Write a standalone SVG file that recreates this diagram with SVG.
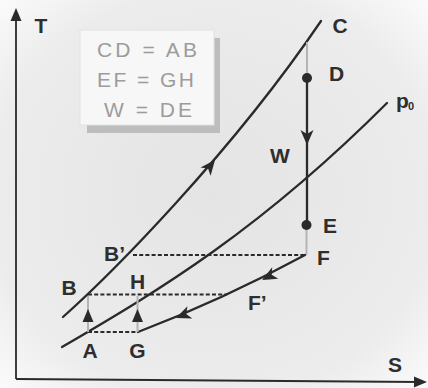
<svg xmlns="http://www.w3.org/2000/svg" width="428" height="388" viewBox="0 0 428 388">
  <defs>
    <radialGradient id="bg" cx="50%" cy="50%" r="70%">
      <stop offset="0" stop-color="#e4e4e4"/>
      <stop offset="0.75" stop-color="#ececec"/>
      <stop offset="1" stop-color="#fafafa"/>
    </radialGradient>
    <path id="ah" d="M0,0 L-15,-6.5 L-11,0 L-15,6.5 Z"/>
    <path id="ahs" d="M0,0 L-13,-5.5 L-13,5.5 Z"/>
    <style>
      .curve { fill: none; stroke: #2a2a2a; stroke-width: 2.3; stroke-linecap: round; }
      .dash { fill: none; stroke: #2a2a2a; stroke-width: 1.8; stroke-dasharray: 4 2.2; }
      .thin { fill: none; stroke: #b4b4b4; stroke-width: 2; }
      .axis { fill: none; stroke: #2a2a2a; stroke-width: 1.8; }
      .head { fill: #2a2a2a; }
      .lbl { font-family: "Liberation Sans", Arial, sans-serif; font-weight: bold; font-size: 21px; fill: #2e2e2e; }
      .eq { font-family: "Liberation Sans", Arial, sans-serif; font-size: 21px; fill: #9c9c9c; }
    </style>
  </defs>

  <rect x="0" y="0" width="428" height="388" fill="url(#bg)"/>

  <!-- formula box -->
  <g id="formula-box">
    <rect x="87" y="38" width="133" height="95" fill="#bdbdbd"/>
    <rect x="80" y="30" width="134" height="95" fill="#f7f7f7" stroke="#e2e2e2" stroke-width="1"/>
    <text class="eq" x="97" y="57" textLength="100" lengthAdjust="spacing">CD = AB</text>
    <text class="eq" x="97" y="87" textLength="97" lengthAdjust="spacing">EF = GH</text>
    <text class="eq" x="104" y="117" textLength="88" lengthAdjust="spacing">W = DE</text>
  </g>

  <!-- axes -->
  <g id="axes">
    <line class="axis" x1="16" y1="379" x2="16" y2="12"/>
    <use href="#ahs" class="head" transform="translate(16,8) rotate(-90)"/>
    <line class="axis" x1="16" y1="379" x2="420" y2="382"/>
    <use href="#ahs" class="head" transform="translate(427,382) rotate(0.4)"/>
    <text class="lbl" x="41" y="33" text-anchor="middle">T</text>
    <text class="lbl" x="395" y="372" text-anchor="middle">S</text>
  </g>

  <!-- connectors -->
  <g id="connectors">
    <!-- upper isobar through B, B', C -->
    <path class="curve" d="M63,317 C110,275 230,155 321,21"/>
    <use href="#ah" class="head" transform="translate(215,160) rotate(-51)"/>
    <!-- ambient isobar p0 through A, H -->
    <path class="curve" d="M62,347 C160,290 260,230 387,103"/>
    <!-- vertical C-D-E-F -->
    <line class="thin" x1="307" y1="42" x2="307" y2="78"/>
    <line class="curve" x1="307" y1="78" x2="307" y2="225"/>
    <use href="#ah" class="head" transform="translate(307,145) rotate(90)"/>
    <line class="thin" x1="306.5" y1="225" x2="306.5" y2="255"/>
    <!-- F -> G cooling curve -->
    <path class="curve" d="M305,255 Q222,300 138,332"/>
    <use href="#ah" class="head" transform="translate(262,280) rotate(152)"/>
    <use href="#ah" class="head" transform="translate(176,318) rotate(158)"/>
    <!-- dashed horizontals -->
    <line class="dash" x1="133" y1="255" x2="305" y2="255"/>
    <line class="dash" x1="88" y1="294.5" x2="227" y2="294.5"/>
    <line class="dash" x1="88" y1="332" x2="138" y2="332"/>
    <!-- vertical arrows A->B, G->H -->
    <line class="thin" x1="88" y1="332" x2="88" y2="296"/>
    <use href="#ahs" class="head" transform="translate(88,309) rotate(-90)"/>
    <line class="thin" x1="137.5" y1="332" x2="137.5" y2="296"/>
    <use href="#ahs" class="head" transform="translate(137.5,309) rotate(-90)"/>
  </g>

  <!-- nodes / points -->
  <g id="node-C"><text class="lbl" x="340" y="33" text-anchor="middle">C</text></g>
  <g id="node-D"><circle cx="307" cy="78" r="5" fill="#2a2a2a"/><text class="lbl" x="329" y="81">D</text></g>
  <g id="node-W"><text class="lbl" x="280" y="163" text-anchor="middle">W</text></g>
  <g id="node-E"><circle cx="306.5" cy="225" r="5" fill="#2a2a2a"/><text class="lbl" x="323" y="233">E</text></g>
  <g id="node-F"><text class="lbl" x="317" y="265">F</text></g>
  <g id="node-F2"><text class="lbl" x="248" y="310">F’</text></g>
  <g id="node-p0"><text class="lbl" x="396" y="108">p</text><text class="lbl" x="408" y="110" style="font-size:11px">0</text></g>
  <g id="node-B2"><text class="lbl" x="104" y="261">B’</text></g>
  <g id="node-B"><text class="lbl" x="69" y="295" text-anchor="middle">B</text></g>
  <g id="node-H"><text class="lbl" x="137.5" y="289" text-anchor="middle">H</text></g>
  <g id="node-A"><text class="lbl" x="90" y="358" text-anchor="middle">A</text></g>
  <g id="node-G"><text class="lbl" x="137.5" y="358" text-anchor="middle">G</text></g>
</svg>
